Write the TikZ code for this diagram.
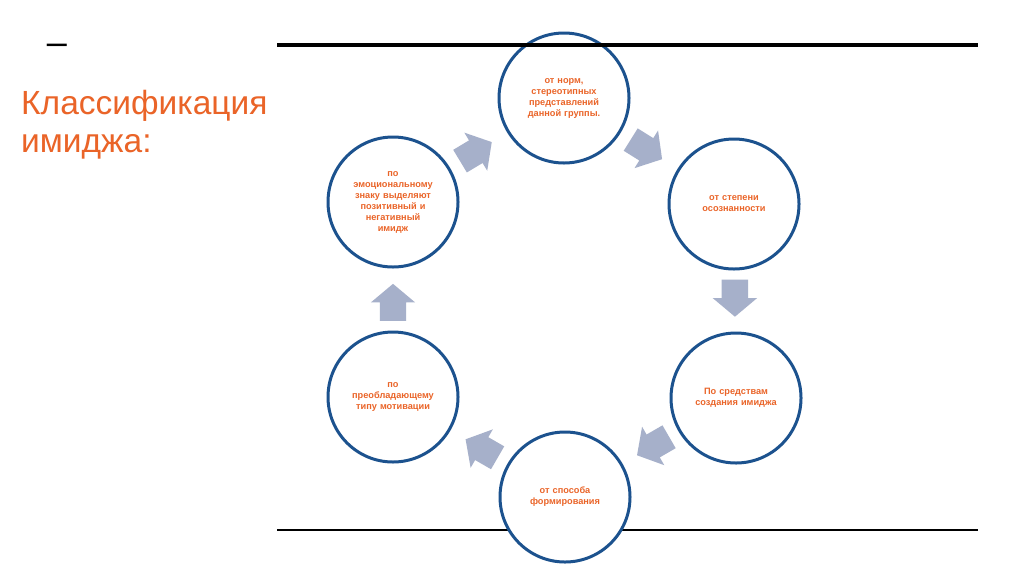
\documentclass[tikz,border=0pt]{standalone}
\usepackage{fontspec}
\setmainfont{Liberation Sans}
\usetikzlibrary{shapes.arrows,calc}
\definecolor{ringblue}{RGB}{28,82,142}
\definecolor{arrowfill}{RGB}{166,176,202}
\definecolor{titleorange}{RGB}{234,100,40}
\tikzset{
  stage/.style={circle, draw=ringblue, line width=3pt, fill=white, minimum size=130pt, inner sep=0pt,
    text=titleorange, font=\fontsize{9.2}{11}\selectfont\bfseries, align=center, text width=100pt},
  flowarrow/.style={single arrow, fill=arrowfill, draw=none, minimum height=37pt,
    inner xsep=0pt, inner ysep=13pt, text height=0pt, text depth=0pt,
    single arrow head extend=9pt, single arrow tip angle=100},
  titletext/.style={anchor=base west, text=titleorange, font=\fontsize{33.5}{40}\selectfont, inner sep=0pt},
  rule/.style={line width=#1, black}
}
\begin{document}
\begin{tikzpicture}[x=1pt,y=-1pt]
\useasboundingbox[fill=white] (0,0) rectangle (1024,574);
% bottom rule (behind circles)
\coordinate (bl) at (277,530);
\coordinate (br) at (978,530);
\draw[rule=2.5pt] (bl) -- (br);
% title
\node[titletext] (title1) at (21,114) {Классификация};
\node[titletext] (title2) at (21,152) {имиджа:};
\node[anchor=base, font=\fontsize{36}{36}\selectfont, inner sep=0pt] (dash) at (57,54) {–};
% stages
\node[stage] (top) at (564,98) {от норм,\\ стереотипных\\ представлений\\ данной группы.};
\node[stage] (ur) at (734,204) {от степени\\ осознанности};
\node[stage] (lr) at (736,398) {По средствам\\ создания имиджа};
\node[stage] (bot) at (565,497) {от способа\\ формирования};
\node[stage] (ll) at (393,397) {по\\ преобладающему\\ типу мотивации};
\node[stage] (ul) at (393,202) {по\\ эмоциональному\\ знаку выделяют\\ позитивный и\\ негативный\\ имидж};
% arrows
\node[flowarrow, rotate=-32] (a1) at ($(top)!0.457!(ur)$) {};
\node[flowarrow, rotate=-90] (a2) at ($(ur)!0.457!(lr)$) {};
\node[flowarrow, rotate=-150] (a3) at ($(lr)!0.457!(bot)$) {};
\node[flowarrow, rotate=150] (a4) at ($(bot)!0.457!(ll)$) {};
\node[flowarrow, rotate=90] (a5) at ($(ll)!0.457!(ul)$) {};
\node[flowarrow, rotate=31] (a6) at ($(ul)!0.457!(top)$) {};
% top rule (in front)
\coordinate (tl) at (277,45);
\coordinate (tr) at (978,45);
\draw[rule=4pt] (tl) -- (tr);
\end{tikzpicture}
\end{document}
